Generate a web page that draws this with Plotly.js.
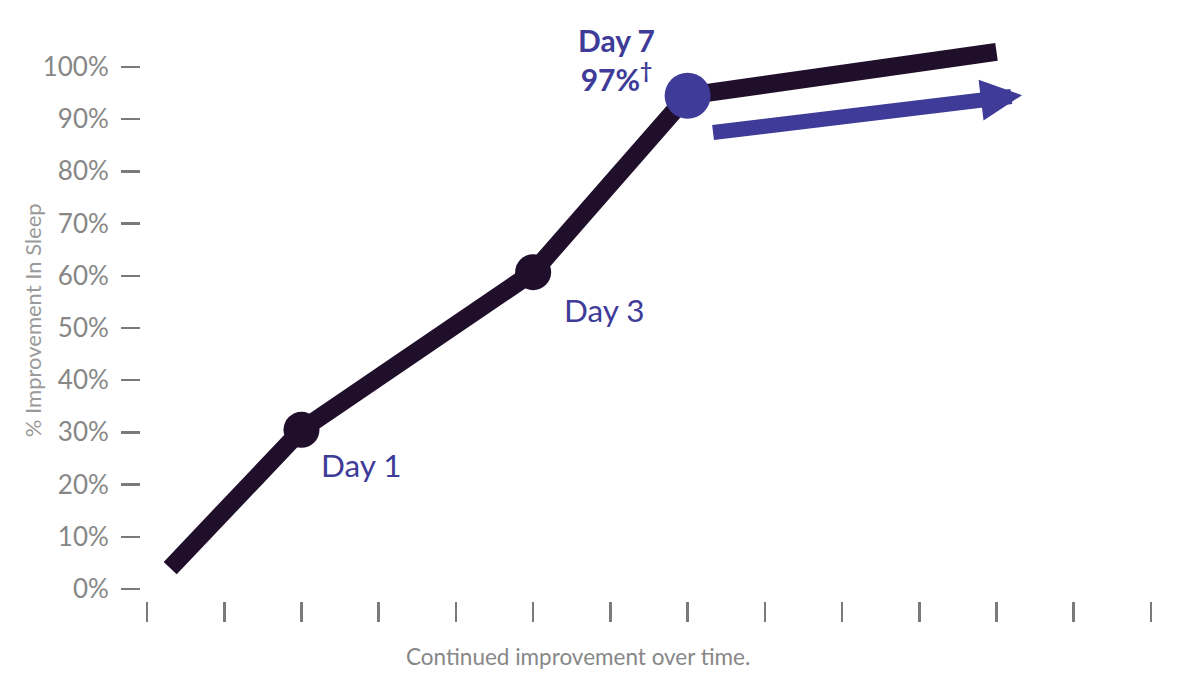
<!DOCTYPE html>
<html>
<head>
<meta charset="utf-8">
<script src="https://cdn.plot.ly/plotly-3.0.1.min.js"></script>
<style>html,body{margin:0;padding:0;background:#fff;}#chart{width:1178px;height:679px;}</style>
</head>
<body>
<div id="chart"></div>
<script>
// Data
const xPositions = [0.3, 2, 5, 7, 11];
const improvement = [4, 30.5, 60.7, 94.5, 102.9];
const dayX = [2, 5, 7];
const dayY = [30.5, 60.7, 94.5];
const dayLabels = ['Day 1', 'Day 3', 'Day 7'];
const day7Value = '97%';
const yTickVals = [0, 10, 20, 30, 40, 50, 60, 70, 80, 90, 100];
const yTickText = ['0%', '10%', '20%', '30%', '40%', '50%', '60%', '70%', '80%', '90%', '100%'];
const xTickVals = [0, 1, 2, 3, 4, 5, 6, 7, 8, 9, 10, 11, 12, 13];
const arrowFrom = [7.31, 87.4];
const arrowTo = [11.33, 94.6];

const dark = '#200f2b';
const purple = '#3e3c98';
const gray = '#878787';
const FONT = 'Lato, "Open Sans", sans-serif';

const traces = [
  {
    x: xPositions, y: improvement, mode: 'lines', type: 'scatter',
    line: {color: dark, width: 18}, cliponaxis: false, hoverinfo: 'skip'
  },
  {
    x: dayX, y: dayY, mode: 'markers', type: 'scatter',
    marker: {color: [dark, dark, purple], size: [36, 36, 46], opacity: 1, line: {width: 0}},
    cliponaxis: false, hoverinfo: 'skip'
  }
];

const layout = {
  width: 1178, height: 679,
  margin: {l: 141, r: 18, t: 20, b: 78},
  paper_bgcolor: '#fff', plot_bgcolor: '#fff',
  showlegend: false,
  font: {family: FONT, color: gray},
  xaxis: {
    range: [-0.078, 13.117],
    tickvals: xTickVals, ticktext: xTickVals.map(() => ''),
    ticks: 'outside', ticklen: 20, tickwidth: 2.5, tickcolor: '#7a7a7a',
    showgrid: false, zeroline: false, showline: false, fixedrange: true
  },
  yaxis: {
    range: [-2.3, 109],
    tickvals: yTickVals, ticktext: yTickText,
    ticks: 'outside', ticklen: 19, tickwidth: 2.5, tickcolor: '#7a7a7a',
    ticklabelstandoff: 7,
    tickfont: {size: 26, color: gray, family: FONT},
    showgrid: false, zeroline: false, showline: false, fixedrange: true
  },
  annotations: [
    {x: 2.78, y: 23.8, xref: 'x', yref: 'y', text: dayLabels[0], showarrow: false,
     font: {size: 31.5, color: purple, family: FONT}},
    {x: 5.92, y: 53.4, xref: 'x', yref: 'y', text: dayLabels[1], showarrow: false,
     font: {size: 31.5, color: purple, family: FONT}},
    {x: 6.08, y: 101.4, xref: 'x', yref: 'y',
     text: '<b>' + dayLabels[2] + '<br>' + day7Value + '<sup>†</sup></b>', showarrow: false,
     font: {size: 30, color: purple, family: FONT}},
    {x: arrowTo[0], y: arrowTo[1], ax: arrowFrom[0], ay: arrowFrom[1],
     xref: 'x', yref: 'y', axref: 'x', ayref: 'y', text: '', showarrow: true,
     arrowhead: 2, arrowsize: 0.55, arrowwidth: 15, arrowcolor: purple},
    {x: 5.58, y: 0, xref: 'x', yref: 'paper', yanchor: 'top', yshift: -40,
     text: 'Continued improvement over time.', showarrow: false,
     font: {size: 22.5, color: gray, family: FONT}},
    {x: 0, xref: 'paper', xanchor: 'center', xshift: -109, y: 51.5, yref: 'y',
     text: '% Improvement In Sleep', textangle: -90, showarrow: false,
     font: {size: 22, color: '#9a9a9a', family: FONT}}
  ]
};

Plotly.newPlot('chart', traces, layout, {displayModeBar: false, staticPlot: true});
</script>
</body>
</html>
